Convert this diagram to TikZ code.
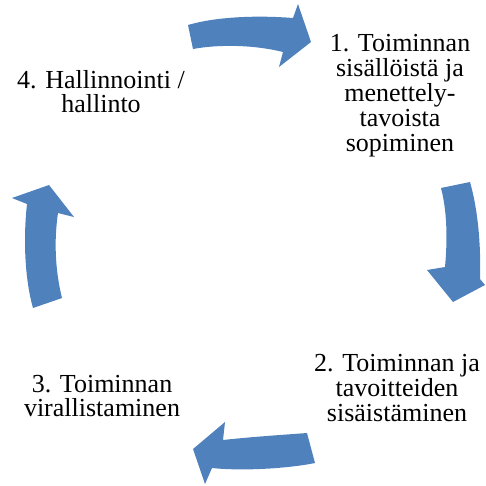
\documentclass[tikz,border=0pt]{standalone}
\usepackage{fontspec}
\setmainfont{Liberation Serif}
\newfontfamily\stepserif{Liberation Serif}
\definecolor{arrowblue}{HTML}{4F81BD}
\begin{document}
\begin{tikzpicture}[x=1pt,y=-1pt,
  cyclearrow/.style={fill=arrowblue, draw=none},
  steplabel/.style={align=center, inner sep=0pt, anchor=north, text=black}]
\useasboundingbox (0,0) rectangle (486,485);

% curved arrows of the cycle
\path[cyclearrow] (188,25) .. controls (215,17) and (255,15) .. (293,18)
  -- (298,4) -- (311,42) -- (279,67) -- (283,52)
  .. controls (255,45) and (220,44) .. (193,49) -- cycle;
\path[cyclearrow] (441,188) -- (470,182)
  .. controls (478,210) and (481,245) .. (480,279)
  -- (485,285) -- (453,302) -- (427,270) -- (445,267)
  .. controls (447,245) and (448,215) .. (441,188) -- cycle;
\path[cyclearrow] (307,433) .. controls (280,435) and (250,437) .. (223,440)
  -- (225,422) -- (193,449) -- (205,484) -- (212,468)
  .. controls (240,471) and (285,469) .. (315,463) -- cycle;
\path[cyclearrow] (33,308) .. controls (25,280) and (23,240) .. (27,204)
  -- (12,198) -- (49,185) -- (74,217) -- (58,213)
  .. controls (54,240) and (55,270) .. (62,298) -- cycle;

% step texts
\node[steplabel, font=\stepserif\fontsize{26}{25}\selectfont] (t1) at (400,34)
  {1. Toiminnan\\sisällöistä ja\\menettely-\\tavoista\\sopiminen};
\node[steplabel, font=\stepserif\fontsize{26}{25}\selectfont] (t2) at (397,354)
  {2. Toiminnan ja\\tavoitteiden\\sisäistäminen};
\node[steplabel, font=\stepserif\fontsize{26}{24.5}\selectfont] (t3) at (102,375)
  {3. Toiminnan\\virallistaminen};
\node[steplabel, font=\stepserif\fontsize{26}{24.5}\selectfont] (t4) at (101,70)
  {4. Hallinnointi /\\hallinto};
\end{tikzpicture}
\end{document}
